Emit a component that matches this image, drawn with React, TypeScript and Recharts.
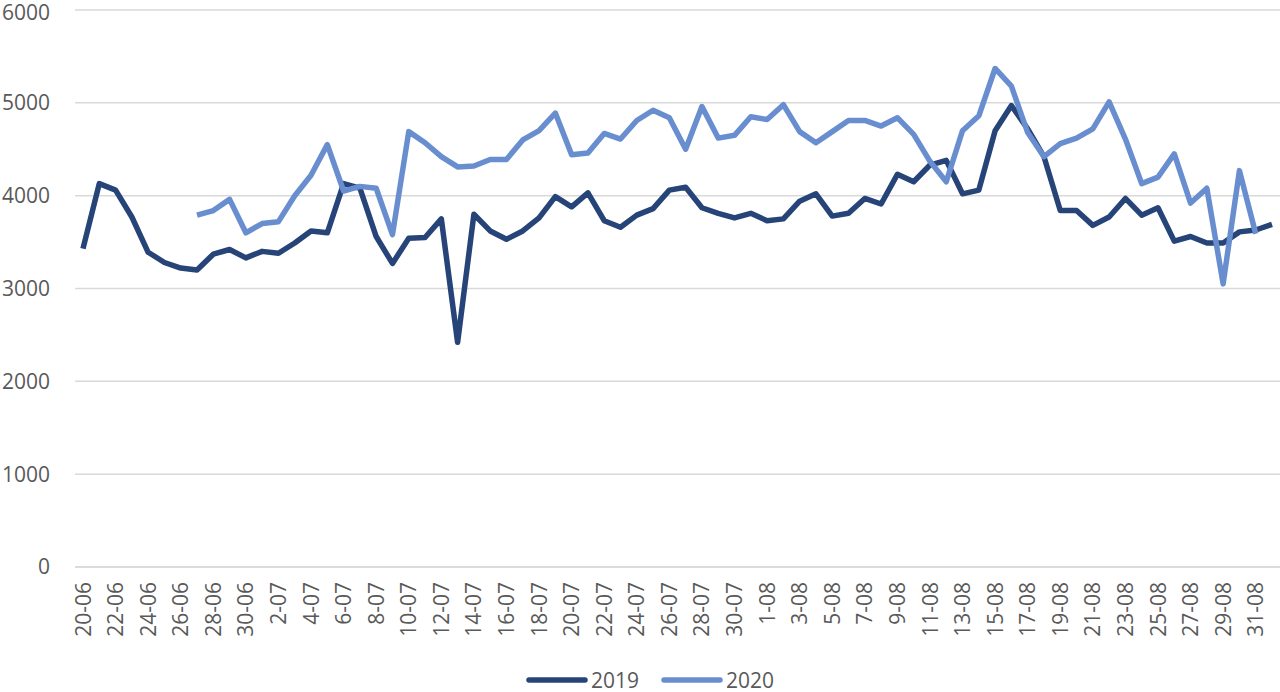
import React from "react";
import { LineChart, Line, XAxis, YAxis, CartesianGrid, Legend } from "recharts";

const categories: string[] = [
  "20-06","21-06","22-06","23-06","24-06","25-06","26-06","27-06","28-06","29-06","30-06",
  "1-07","2-07","3-07","4-07","5-07","6-07","7-07","8-07","9-07","10-07","11-07","12-07","13-07","14-07","15-07","16-07","17-07","18-07","19-07","20-07","21-07","22-07","23-07","24-07","25-07","26-07","27-07","28-07","29-07","30-07","31-07",
  "1-08","2-08","3-08","4-08","5-08","6-08","7-08","8-08","9-08","10-08","11-08","12-08","13-08","14-08","15-08","16-08","17-08","18-08","19-08","20-08","21-08","22-08","23-08","24-08","25-08","26-08","27-08","28-08","29-08","30-08","31-08",
  "1-09",
];

const series2019: number[] = [
  3430, 4130, 4060, 3770, 3390, 3280, 3220, 3200, 3370, 3420, 3330,
  3400, 3380, 3490, 3620, 3600, 4130, 4080, 3560, 3270, 3540, 3550, 3750, 2420, 3800, 3620,
  3530, 3620, 3760, 3990, 3880, 4030, 3730, 3660, 3790, 3860, 4060, 4090, 3870, 3810, 3760, 3810,
  3730, 3750, 3940, 4020, 3780, 3810, 3970, 3910, 4230, 4150, 4330, 4380, 4020, 4060, 4700, 4970,
  4720, 4420, 3840, 3840, 3680, 3770, 3970, 3790, 3870, 3510, 3560, 3490, 3490, 3610, 3630,
  3690,
];

const series2020: (number | null)[] = [
  null, null, null, null, null, null, null, 3790, 3840, 3960, 3600,
  3700, 3720, 4000, 4220, 4550, 4050, 4100, 4080, 3580, 4690, 4570, 4420, 4310, 4320, 4390,
  4390, 4600, 4700, 4890, 4440, 4460, 4670, 4610, 4810, 4920, 4840, 4500, 4960, 4620, 4650, 4850,
  4820, 4980, 4690, 4570, 4690, 4810, 4810, 4750, 4840, 4660, 4370, 4150, 4700, 4860, 5370, 5180,
  4680, 4420, 4560, 4620, 4720, 5010, 4610, 4130, 4200, 4450, 3920, 4080, 3050, 4270, 3590,
  null,
];

const yTicks: number[] = [0, 1000, 2000, 3000, 4000, 5000, 6000];

const seriesNames = ["2019", "2020"];
const seriesColors = ["#264478", "#698ED0"];

const data = categories.map((c, i) => ({
  date: c,
  y2019: series2019[i],
  y2020: series2020[i],
}));

const FONT = "'Open Sans', 'Liberation Sans', sans-serif";
const TEXT_COLOR = "#595959";

const XTick = (props: any) => {
  const { x, y, payload } = props;
  return (
    <g transform={`translate(${x},${y + 15}) rotate(-90)`}>
      <text
        x={0}
        y={0}
        dy="0.36em"
        textAnchor="end"
        fill={TEXT_COLOR}
        fontSize={21}
        fontFamily={FONT}
      >
        {payload.value}
      </text>
    </g>
  );
};

const LegendContent = () => (
  <div
    style={{
      height: 30,
      boxSizing: "border-box",
      paddingTop: 5,
      display: "flex",
      alignItems: "center",
      justifyContent: "center",
      paddingLeft: 20,
      fontFamily: FONT,
      fontSize: 21,
      lineHeight: "24px",
      color: TEXT_COLOR,
    }}
  >
    {seriesNames.map((n, i) => (
      <div key={n} style={{ display: "flex", alignItems: "center", marginRight: i === 0 ? 22 : 0 }}>
        <svg width={62} height={10} style={{ marginRight: 3 }}>
          <line x1={3} y1={5} x2={59} y2={5} stroke={seriesColors[i]} strokeWidth={5.5} strokeLinecap="round" />
        </svg>
        <span>{n}</span>
      </div>
    ))}
  </div>
);

export default function App() {
  return (
    <div style={{ position: "absolute", left: 0, top: 0, width: 1280, height: 692, background: "#fff" }}>
      <LineChart
        width={1280}
        height={692}
        data={data}
        margin={{ top: 10, right: 0, left: 0, bottom: 0 }}
      >
        <CartesianGrid vertical={false} stroke="#d9d9d9" strokeWidth={1.5} />
        <XAxis
          dataKey="date"
          interval={1}
          padding={{ left: 8, right: 8 }}
          height={95}
          tickSize={0}
          tickMargin={0}
          axisLine={{ stroke: "#d9d9d9", strokeWidth: 1.5 }}
          tickLine={false}
          tick={<XTick />}
        />
        <YAxis
          domain={[0, 6000]}
          ticks={yTicks}
          width={75}
          tickSize={0}
          tickMargin={25}
          axisLine={false}
          tickLine={false}
          tick={{ fill: TEXT_COLOR, fontSize: 21, fontFamily: FONT }}
        />
        <Legend verticalAlign="bottom" content={<LegendContent />} wrapperStyle={{ height: 30 }} />
        <Line
          type="linear"
          dataKey="y2019"
          name="2019"
          stroke={seriesColors[0]}
          strokeWidth={5.5}
          dot={false}
          strokeLinejoin="round"
          isAnimationActive={false}
        />
        <Line
          type="linear"
          dataKey="y2020"
          name="2020"
          stroke={seriesColors[1]}
          strokeWidth={5.5}
          dot={false}
          strokeLinejoin="round"
          isAnimationActive={false}
        />
      </LineChart>
    </div>
  );
}
